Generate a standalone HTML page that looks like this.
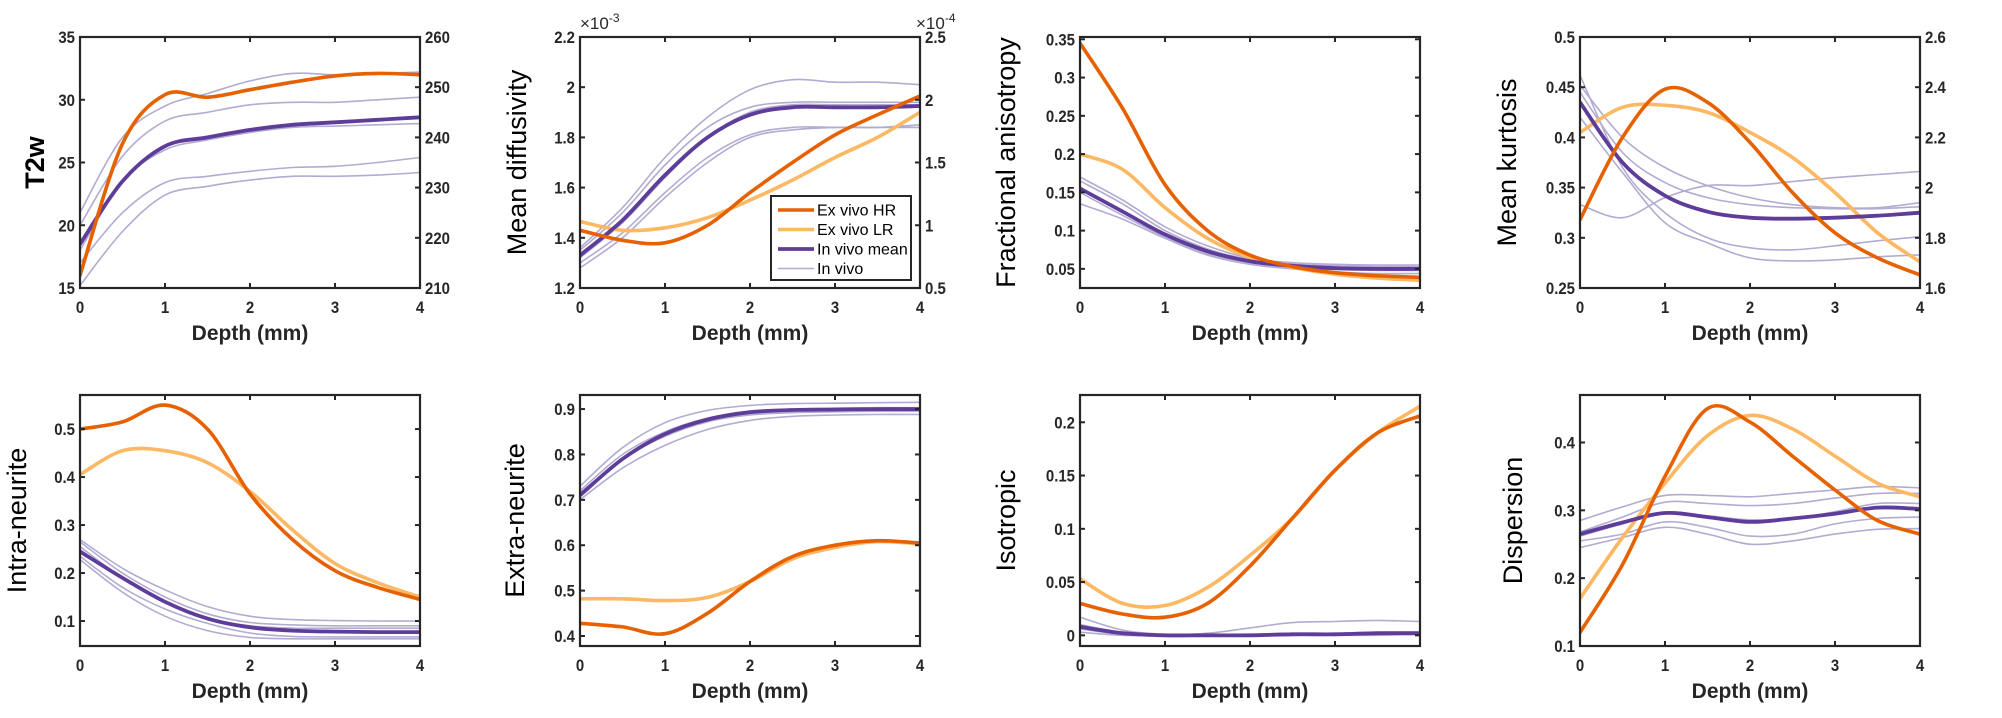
<!DOCTYPE html>
<html><head><meta charset="utf-8">
<style>
html,body{margin:0;padding:0;background:#fff;}
svg{display:block;font-family:"Liberation Sans",Arial,sans-serif;}
.tick{font-size:17px;fill:#262626;font-weight:bold;}
.xl{font-size:21px;font-weight:bold;fill:#262626;}
.yl{font-size:27px;fill:#000;}
.lg{font-size:16px;fill:#000;}
</style></head>
<body>
<svg id="fig" width="2002" height="718" viewBox="0 0 2002 718"></svg>
<script>
const depth=[0,0.5,1,1.5,2,2.5,3,3.5,4];
const xTicks=[0,1,2,3,4];
// T2w
const t2wHR=[16,26.5,30.4,30.2,30.8,31.4,31.9,32.1,32.0];
const t2wMean=[18.5,23.5,26.3,27.0,27.6,28.0,28.2,28.4,28.6];
const t2wVivo1=[21,27,29.5,30.5,31.5,32.1,32.0,32.1,32.2];
const t2wVivo2=[20,25.5,28.3,29.0,29.6,29.8,29.8,30.0,30.2];
const t2wVivo3=[18,23.5,26.0,26.8,27.4,27.8,27.9,28.0,28.1];
const t2wVivo4=[17,21,23.4,23.9,24.3,24.6,24.7,25.0,25.4];
const t2wVivo5=[15.2,19.5,22.4,23.1,23.6,23.9,23.9,24.0,24.2];
const t2wTicks=[15,20,25,30,35];
const t2wRightTicks=[210,220,230,240,250,260];
// MD (x1e-3)
const mdHR=[1.43,1.39,1.38,1.45,1.58,1.70,1.81,1.89,1.965];
const mdLR=[1.465,1.43,1.44,1.48,1.55,1.63,1.72,1.80,1.90];
const mdMean=[1.33,1.47,1.65,1.80,1.89,1.92,1.92,1.92,1.925];
const mdVivo1=[1.36,1.52,1.72,1.88,1.99,2.03,2.02,2.02,2.01];
const mdVivo2=[1.35,1.50,1.69,1.84,1.92,1.94,1.94,1.94,1.94];
const mdVivo3=[1.32,1.46,1.64,1.80,1.90,1.93,1.93,1.93,1.93];
const mdVivo4=[1.30,1.42,1.58,1.72,1.81,1.84,1.84,1.84,1.85];
const mdVivo5=[1.28,1.40,1.56,1.70,1.80,1.83,1.84,1.84,1.84];
const mdTicks=[1.2,1.4,1.6,1.8,2,2.2];
const mdRightTicks=[0.5,1,1.5,2,2.5];
// FA
const faHR=[0.345,0.26,0.16,0.10,0.068,0.053,0.045,0.041,0.039];
const faLR=[0.20,0.18,0.13,0.09,0.065,0.052,0.043,0.038,0.035];
const faMean=[0.155,0.125,0.095,0.073,0.06,0.054,0.051,0.05,0.05];
const faVivo1=[0.17,0.14,0.105,0.08,0.064,0.058,0.056,0.055,0.055];
const faVivo2=[0.165,0.135,0.10,0.076,0.062,0.056,0.054,0.053,0.053];
const faVivo3=[0.15,0.12,0.092,0.07,0.058,0.052,0.049,0.048,0.048];
const faVivo4=[0.135,0.115,0.09,0.068,0.056,0.05,0.046,0.044,0.044];
const faTicks=[0.05,0.1,0.15,0.2,0.25,0.3,0.35];
// MK
const mkHR=[0.318,0.40,0.448,0.435,0.395,0.345,0.305,0.28,0.263];
const mkLR=[0.405,0.43,0.432,0.425,0.405,0.38,0.345,0.305,0.276];
const mkMean=[0.435,0.375,0.342,0.326,0.320,0.319,0.32,0.322,0.325];
const mkVivo1=[0.333,0.32,0.34,0.352,0.352,0.356,0.36,0.363,0.366];
const mkVivo2=[0.452,0.40,0.37,0.352,0.34,0.333,0.33,0.33,0.335];
const mkVivo3=[0.445,0.385,0.355,0.34,0.333,0.33,0.329,0.329,0.331];
const mkVivo4=[0.462,0.37,0.325,0.30,0.29,0.288,0.292,0.297,0.301];
const mkVivo5=[0.42,0.365,0.315,0.295,0.28,0.277,0.278,0.281,0.283];
const mkTicks=[0.25,0.3,0.35,0.4,0.45,0.5];
const mkRightTicks=[1.6,1.8,2,2.2,2.4,2.6];
// Intra
const inHR=[0.50,0.515,0.55,0.50,0.365,0.27,0.205,0.17,0.145];
const inLR=[0.405,0.455,0.455,0.43,0.37,0.29,0.22,0.18,0.15];
const inMean=[0.245,0.19,0.14,0.105,0.087,0.08,0.078,0.077,0.077];
const inVivo1=[0.27,0.21,0.165,0.13,0.11,0.103,0.101,0.1,0.1];
const inVivo2=[0.265,0.20,0.15,0.115,0.097,0.092,0.09,0.09,0.09];
const inVivo3=[0.255,0.19,0.14,0.105,0.09,0.085,0.085,0.085,0.085];
const inVivo4=[0.235,0.17,0.125,0.095,0.075,0.068,0.067,0.067,0.067];
const inVivo5=[0.228,0.16,0.11,0.08,0.066,0.063,0.063,0.063,0.063];
const inTicks=[0.1,0.2,0.3,0.4,0.5];
// Extra
const exHR=[0.428,0.42,0.405,0.45,0.52,0.575,0.60,0.61,0.605];
const exLR=[0.482,0.482,0.478,0.485,0.52,0.57,0.595,0.608,0.603];
const exMean=[0.71,0.79,0.845,0.877,0.893,0.898,0.899,0.9,0.9];
const exVivo1=[0.73,0.815,0.87,0.897,0.908,0.912,0.913,0.914,0.915];
const exVivo2=[0.72,0.80,0.85,0.88,0.895,0.9,0.902,0.903,0.903];
const exVivo3=[0.715,0.79,0.84,0.872,0.887,0.892,0.894,0.895,0.895];
const exVivo4=[0.70,0.77,0.82,0.855,0.875,0.884,0.887,0.888,0.888];
const exTicks=[0.4,0.5,0.6,0.7,0.8,0.9];
// Isotropic
const isoHR=[0.03,0.02,0.017,0.03,0.065,0.11,0.155,0.19,0.206];
const isoLR=[0.053,0.03,0.028,0.045,0.075,0.11,0.155,0.19,0.215];
const isoMean=[0.008,0.002,0,0,0,0.001,0.001,0.002,0.002];
const isoVivo1=[0.017,0.005,0.001,0.002,0.007,0.012,0.013,0.014,0.013];
const isoVivo2=[0.01,0.003,0,0,0.001,0.002,0.002,0.003,0.003];
const isoVivo3=[0.006,0.001,0,0,0,0,0.001,0.001,0.001];
const isoVivo4=[0.003,0,0,0,0,0,0,0,0.001];
const isoTicks=[0,0.05,0.1,0.15,0.2];
// Dispersion
const dsHR=[0.12,0.22,0.35,0.45,0.43,0.38,0.33,0.285,0.265];
const dsLR=[0.17,0.26,0.34,0.41,0.44,0.42,0.38,0.34,0.32];
const dsMean=[0.265,0.282,0.296,0.29,0.283,0.288,0.295,0.304,0.302];
const dsVivo1=[0.285,0.305,0.322,0.322,0.32,0.325,0.33,0.335,0.333];
const dsVivo2=[0.268,0.29,0.312,0.31,0.307,0.31,0.318,0.325,0.325];
const dsVivo3=[0.262,0.28,0.297,0.292,0.286,0.287,0.298,0.31,0.31];
const dsVivo4=[0.255,0.265,0.283,0.275,0.262,0.265,0.28,0.288,0.29];
const dsVivo5=[0.245,0.26,0.275,0.265,0.25,0.255,0.265,0.272,0.273];
const dsTicks=[0.1,0.2,0.3,0.4];

const NS='http://www.w3.org/2000/svg';
const svg=document.getElementById('fig');
const C={hr:'#e66101',lr:'#fdb863',mean:'#5e3c99',vivo:'#b2abd2'};
function mk(tag,attrs,parent){const e=document.createElementNS(NS,tag);for(const k in attrs)e.setAttribute(k,attrs[k]);(parent||svg).appendChild(e);return e;}
function fmt(v){return String(+v.toFixed(4));}
function smoothPath(pts){
  let d='M'+pts[0][0].toFixed(1)+','+pts[0][1].toFixed(1);
  for(let i=0;i<pts.length-1;i++){
    const p0=pts[i-1]||pts[i],p1=pts[i],p2=pts[i+1],p3=pts[i+2]||p2;
    const c1=[p1[0]+(p2[0]-p0[0])/6,p1[1]+(p2[1]-p0[1])/6];
    const c2=[p2[0]-(p3[0]-p1[0])/6,p2[1]-(p3[1]-p1[1])/6];
    d+=' C'+c1[0].toFixed(1)+','+c1[1].toFixed(1)+' '+c2[0].toFixed(1)+','+c2[1].toFixed(1)+' '+p2[0].toFixed(1)+','+p2[1].toFixed(1);
  }
  return d;
}
function ttext(g,x,y,anchor,str,name){
  const t=mk('text',{x:0,y:0,'text-anchor':anchor,class:'tick',transform:'translate('+x+' '+y+') scale(0.88 1)'},g);
  t.textContent=str;
  
  
  return t;
}
function panel(o){
  const L=o.left,R=o.left+340,T=o.top,B=o.top+251;
  const g=mk('g',{});
  
  
  const xs=v=>L+(v-0)/(4-0)*(R-L);
  const ys=v=>B-(v-o.ymin)/(o.ymax-o.ymin)*(B-T);
  const series=[];
  o.vivo.forEach(s=>series.push([s,C.vivo,1.6,'in-vivo-line']));
  if(o.lr)series.push([o.lr,C.lr,3.6,'ex-vivo-lr-line']);
  series.push([o.mean,C.mean,3.8,'in-vivo-mean-line']);
  if(o.hr)series.push([o.hr,C.hr,3.6,'ex-vivo-hr-line']);
  const clip='clip-'+o.name;
  const cp=mk('clipPath',{id:clip},g);mk('rect',{x:L,y:T,width:R-L,height:B-T},cp);
  const lg=mk('g',{'clip-path':'url(#'+clip+')'},g);
  series.forEach(s=>{
    const pts=depth.map((d,i)=>[xs(d),ys(s[0][i])]);
    const p=mk('path',{d:smoothPath(pts),fill:'none',stroke:s[1],'stroke-width':s[2],'stroke-linejoin':'round','stroke-linecap':'round'},lg);
    
    
  });
  const box=mk('rect',{x:L,y:T,width:R-L,height:B-T,fill:'none',stroke:'#262626','stroke-width':2.2},g);
  
  
  xTicks.forEach(t=>{
    const x=xs(t);
    mk('line',{x1:x,x2:x,y1:B,y2:B-5,stroke:'#262626','stroke-width':2},g);
    mk('line',{x1:x,x2:x,y1:T,y2:T+5,stroke:'#262626','stroke-width':2},g);
    ttext(g,x,B+25,'middle',fmt(t),o.name+'-x-tick-label');
  });
  o.ticks.forEach(t=>{
    const y=ys(t);
    mk('line',{x1:L,x2:L+5,y1:y,y2:y,stroke:'#262626','stroke-width':2},g);
    if(!o.rticks)mk('line',{x1:R,x2:R-5,y1:y,y2:y,stroke:'#262626','stroke-width':2},g);
    ttext(g,L-5,y+6,'end',o.tfmt?o.tfmt(t):fmt(t),o.name+'-y-tick-label');
  });
  if(o.rticks){
    o.rticks.forEach(t=>{
      const y=B-(t-o.rmin)/(o.rmax-o.rmin)*(B-T);
      mk('line',{x1:R,x2:R-5,y1:y,y2:y,stroke:'#262626','stroke-width':2},g);
      ttext(g,R+5,y+6,'start',fmt(t),o.name+'-right-tick-label');
    });
  }
  const xl=mk('text',{x:(L+R)/2,y:B+52,'text-anchor':'middle',class:'xl'},g);xl.textContent='Depth (mm)';
  
  
  const yx=L-o.ylOff, yy=(T+B)/2;
  const yl=mk('text',{x:yx,y:yy,'text-anchor':'middle',class:'yl',transform:'rotate(-90 '+yx+' '+yy+')','font-weight':o.bold?'bold':'normal'},g);yl.textContent=o.ylabel;
  
  
  return {L,R,T,B};
}
const cols=[80,580,1080,1580], rows=[37,395];
panel({name:'t2w',left:cols[0],top:rows[0],ymin:15,ymax:35,ticks:t2wTicks,rticks:t2wRightTicks,rmin:210,rmax:260,
  hr:t2wHR,mean:t2wMean,vivo:[t2wVivo1,t2wVivo2,t2wVivo3,t2wVivo4,t2wVivo5],ylabel:'T2w',ylOff:36,bold:true});
const md=panel({name:'mean-diffusivity',left:cols[1],top:rows[0],ymin:1.2,ymax:2.2,ticks:mdTicks,tfmt:v=>String(+v.toFixed(1)),rticks:mdRightTicks,rmin:0.5,rmax:2.5,
  hr:mdHR,lr:mdLR,mean:mdMean,vivo:[mdVivo1,mdVivo2,mdVivo3,mdVivo4,mdVivo5],ylabel:'Mean diffusivity',ylOff:54});
panel({name:'fractional-anisotropy',left:cols[2],top:rows[0],ymin:0.025,ymax:0.353,ticks:faTicks,
  hr:faHR,lr:faLR,mean:faMean,vivo:[faVivo1,faVivo2,faVivo3,faVivo4],ylabel:'Fractional anisotropy',ylOff:65});
panel({name:'mean-kurtosis',left:cols[3],top:rows[0],ymin:0.25,ymax:0.5,ticks:mkTicks,rticks:mkRightTicks,rmin:1.6,rmax:2.6,
  hr:mkHR,lr:mkLR,mean:mkMean,vivo:[mkVivo1,mkVivo2,mkVivo3,mkVivo4,mkVivo5],ylabel:'Mean kurtosis',ylOff:64});
panel({name:'intra-neurite',left:cols[0],top:rows[1],ymin:0.048,ymax:0.571,ticks:inTicks,
  hr:inHR,lr:inLR,mean:inMean,vivo:[inVivo1,inVivo2,inVivo3,inVivo4,inVivo5],ylabel:'Intra-neurite',ylOff:54});
panel({name:'extra-neurite',left:cols[1],top:rows[1],ymin:0.378,ymax:0.931,ticks:exTicks,
  hr:exHR,lr:exLR,mean:exMean,vivo:[exVivo1,exVivo2,exVivo3,exVivo4],ylabel:'Extra-neurite',ylOff:56});
panel({name:'isotropic',left:cols[2],top:rows[1],ymin:-0.010,ymax:0.2256,ticks:isoTicks,
  hr:isoHR,lr:isoLR,mean:isoMean,vivo:[isoVivo1,isoVivo2,isoVivo3,isoVivo4],ylabel:'Isotropic',ylOff:65});
panel({name:'dispersion',left:cols[3],top:rows[1],ymin:0.1,ymax:0.47,ticks:dsTicks,
  hr:dsHR,lr:dsLR,mean:dsMean,vivo:[dsVivo1,dsVivo2,dsVivo3,dsVivo4,dsVivo5],ylabel:'Dispersion',ylOff:58});
function expo(x,y,p,name){const t=mk('text',{x:x,y:y,'font-size':'17',fill:'#262626'});t.innerHTML='×10<tspan dy="-7" font-size="12">'+p+'</tspan>';
  
  }
expo(md.L,md.T-8,'-3','left-exponent-label');
expo(md.R-4,md.T-8,'-4','right-exponent-label');
const leg=mk('g',{});


mk('rect',{x:771,y:196,width:140,height:84,fill:'#fff',stroke:'#262626','stroke-width':2},leg);
const items=[['Ex vivo HR',C.hr,3.6],['Ex vivo LR',C.lr,3.6],['In vivo mean',C.mean,3.8],['In vivo',C.vivo,1.6]];
items.forEach((it,i)=>{
  const y=210+i*19.5;
  const e=mk('g',{},leg);
  
  
  mk('line',{x1:778,x2:814,y1:y,y2:y,stroke:it[1],'stroke-width':it[2]},e);
  const t=mk('text',{x:817,y:y+5.5,class:'lg'},e);t.textContent=it[0];
});
</script>
</body></html>
